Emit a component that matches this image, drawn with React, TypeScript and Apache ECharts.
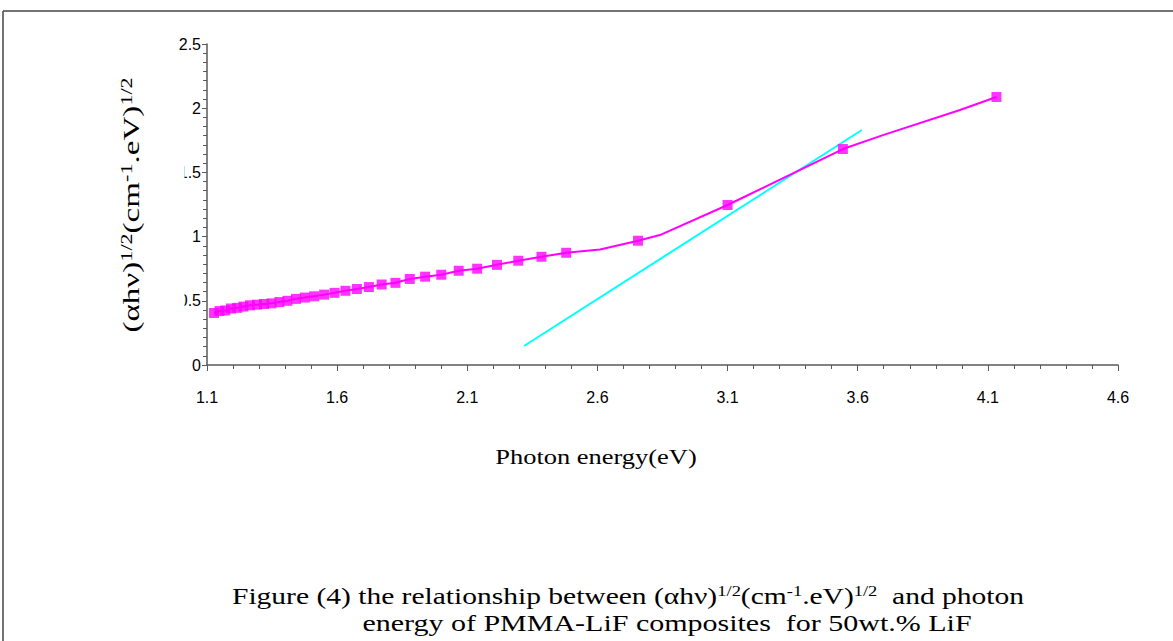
import React, { useEffect, useRef } from "react";
import * as echarts from "echarts";

// Photon energy (eV) of the marked points
const markedEnergy = [
  1.127, 1.148, 1.170, 1.192, 1.216, 1.240, 1.265, 1.292, 1.319, 1.348,
  1.378, 1.409, 1.442, 1.476, 1.512, 1.550, 1.590, 1.632, 1.676, 1.722,
  1.771, 1.824, 1.879, 1.938, 2.000, 2.067, 2.138, 2.214, 2.296, 2.385,
  2.480, 2.756, 3.100, 3.543, 4.133,
];
// (αhν)^1/2 of the marked points
const markedValue = [
  0.405, 0.420, 0.425, 0.440, 0.445, 0.455, 0.465, 0.470, 0.475, 0.480,
  0.490, 0.500, 0.515, 0.525, 0.535, 0.548, 0.562, 0.578, 0.592, 0.607,
  0.627, 0.640, 0.670, 0.688, 0.703, 0.734, 0.750, 0.780, 0.812, 0.843,
  0.874, 0.968, 1.246, 1.682, 2.087,
];
// points on the curve drawn without a marker
const lineOnlyEnergy = [2.61, 2.84, 3.697, 3.993];
const lineOnlyValue = [0.9, 1.012, 1.79, 1.986];
// tangent (fit) line end points
const fitEnergy = [2.318, 3.616];
const fitValue = [0.148, 1.83];

const xTickLabels = ["1.1", "1.6", "2.1", "2.6", "3.1", "3.6", "4.1", "4.6"];
const X0 = 1.1;

const serif = "'Liberation Serif', 'Times New Roman', serif";
const sans = "'Liberation Sans', Arial, sans-serif";

export default function App() {
  const ref = useRef<HTMLDivElement>(null);

  useEffect(() => {
    if (!ref.current) return;
    const chart = echarts.init(ref.current, undefined, { renderer: "svg" });

    const curve = markedEnergy
      .map((e, i) => [e, markedValue[i]])
      .concat(lineOnlyEnergy.map((e, i) => [e, lineOnlyValue[i]]))
      .sort((a, b) => a[0] - b[0])
      .map((p) => [p[0] - X0, p[1]]);
    const markers = markedEnergy.map((e, i) => [e - X0, markedValue[i]]);
    const fit = fitEnergy.map((e, i) => [e - X0, fitValue[i]]);

    const axisColor = "#5a5a5a";
    const sup = (size: number) => ({
      fontFamily: serif,
      fontSize: size,
      verticalAlign: "top" as const,
      fill: "#000",
    });

    chart.setOption({
      animation: false,
      backgroundColor: "#fff",
      grid: { left: 207, top: 44, width: 911, height: 321, containLabel: false },
      xAxis: {
        type: "value",
        min: 0,
        max: 3.5,
        interval: 0.5,
        axisLine: { show: true, lineStyle: { color: axisColor, width: 1.5 } },
        axisTick: { show: true, length: 6, lineStyle: { color: axisColor } },
        minorTick: { show: true, splitNumber: 5, length: 4, lineStyle: { color: axisColor } },
        splitLine: { show: false },
        axisLabel: {
          formatter: (v: number) => xTickLabels[Math.round(v / 0.5)] ?? "",
          fontFamily: sans,
          fontSize: 16,
          color: "#000",
          margin: 24,
        },
      },
      yAxis: {
        type: "value",
        min: 0,
        max: 2.5,
        interval: 0.5,
        axisLine: { show: true, lineStyle: { color: axisColor, width: 1.5 } },
        axisTick: { show: true, length: 5, lineStyle: { color: axisColor } },
        minorTick: { show: true, splitNumber: 7, length: 4, lineStyle: { color: axisColor } },
        splitLine: { show: false },
        axisLabel: { fontFamily: sans, fontSize: 16, color: "#000", margin: 6 },
      },
      series: [
        {
          type: "line",
          data: fit,
          symbol: "none",
          lineStyle: { color: "#00ffff", width: 2 },
          z: 1,
        },
        {
          type: "line",
          data: curve,
          symbol: "none",
          lineStyle: { color: "#ff00ff", width: 2 },
          z: 2,
        },
        {
          type: "scatter",
          data: markers,
          symbol: "rect",
          symbolSize: 10,
          itemStyle: { color: "#ff00ff" },
          z: 3,
        },
      ],
      graphic: [
        { type: "line", shape: { x1: 3, y1: 11, x2: 1173, y2: 11 }, style: { stroke: "#444", lineWidth: 1.5 } },
        { type: "line", shape: { x1: 3, y1: 11, x2: 3, y2: 641 }, style: { stroke: "#444", lineWidth: 1.5 } },
        {
          type: "rect",
          shape: { x: 100, y: 150, width: 84.5, height: 175 },
          style: { fill: "#fff" },
          z: 100,
        },
        {
          type: "text",
          x: 131,
          y: 205,
          rotation: Math.PI / 2,
          scaleX: 1.38,
          z: 101,
          style: {
            text: "(αhν){sup|1/2}(cm{sup|-1}.eV){sup|1/2}",
            font: `24px ${serif}`,
            fill: "#000",
            align: "center",
            verticalAlign: "middle",
            rich: { sup: sup(16) },
          },
        },
        {
          type: "text",
          x: 596,
          y: 457,
          scaleX: 1.26,
          style: {
            text: "Photon energy(eV)",
            font: `21px ${serif}`,
            fill: "#000",
            align: "center",
            verticalAlign: "middle",
          },
        },
        {
          type: "text",
          x: 628,
          y: 596,
          scaleX: 1.23,
          style: {
            text: "Figure (4) the relationship between (αhν){sup|1/2}(cm{sup|-1}.eV){sup|1/2}  and photon",
            font: `24px ${serif}`,
            fill: "#000",
            align: "center",
            verticalAlign: "middle",
            rich: { sup: sup(15) },
          },
        },
        {
          type: "text",
          x: 667,
          y: 623,
          scaleX: 1.25,
          style: {
            text: "energy of PMMA-LiF composites  for 50wt.% LiF",
            font: `24px ${serif}`,
            fill: "#000",
            align: "center",
            verticalAlign: "middle",
          },
        },
      ],
    });

    return () => chart.dispose();
  }, []);

  return (
    <div
      ref={ref}
      style={{ position: "fixed", left: 0, top: 0, width: 1173, height: 641, background: "#fff" }}
    />
  );
}
